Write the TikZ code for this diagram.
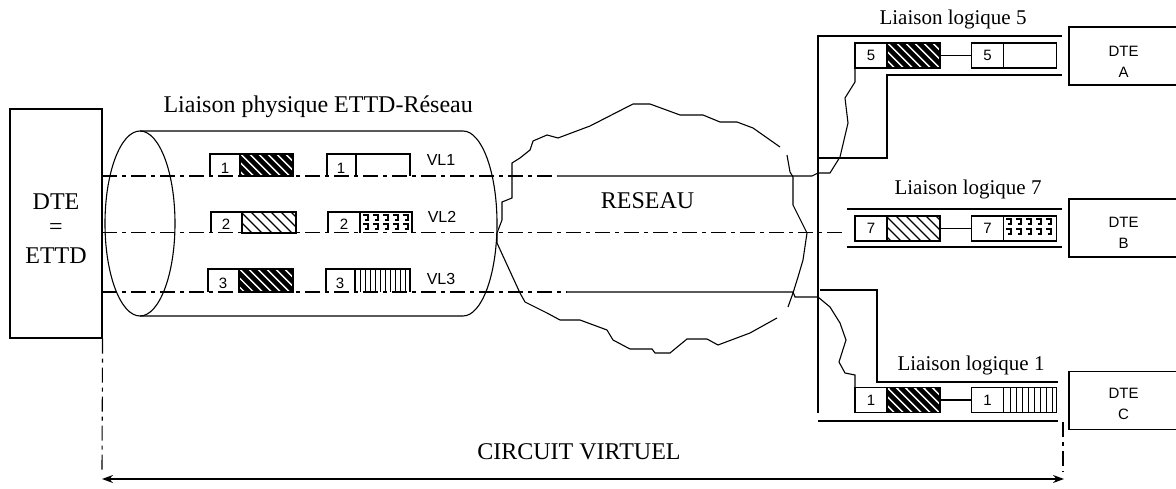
\documentclass[tikz,border=0pt]{standalone}
\usepackage{fontspec}
\setmainfont{Liberation Serif}
\newfontfamily\dtesans{Liberation Sans}
\usetikzlibrary{arrows.meta}
% diagonal "\" hatching clipped to a box: x0,y0,x1,y1,period,line width
\newcommand{\hatchbox}[6]{%
  \begin{scope}
    \clip (#1,#2) rectangle (#3,#4);
    \foreach \k in {0,...,14}
      \draw[line width=#6, line cap=butt] ({#1-32+\k*#5},{#2-1}) -- ++(34,34);
  \end{scope}}
% small hook marks used as a "dotted" payload
\newcommand{\hookfill}[3]{%
  \foreach \c in {0,...,4} \foreach \r in {0,1}
    \draw[line width=1.9pt] ({#1+\c*10},{#2+\r*#3}) -- ++(5,0) -- ++(0,5) -- ++(-3,0);}
\begin{document}
\begin{tikzpicture}[x=1pt,y=-1pt,line width=1.1pt,
  serif/.style={font=\fontsize{24}{27}\selectfont, inner sep=0pt},
  llabel/.style={font=\fontsize{21}{24}\selectfont, inner sep=0pt},
  sans/.style={font=\dtesans\fontsize{16}{18}\selectfont, inner sep=0pt},
  num/.style={font=\dtesans\fontsize{15}{17}\selectfont, inner sep=0pt},
  vline/.style={dash pattern=on 15pt off 5pt on 4pt off 5pt},
  cell/.style={draw, minimum height=25pt, inner sep=0pt, outer sep=0pt},
  numcell/.style={cell, minimum width=32pt, font=\dtesans\fontsize{15}{17}\selectfont},
  loadcell/.style={cell, minimum width=53pt},
  dtebox/.style={draw, minimum width=109pt, minimum height=58pt, inner sep=0pt},
  dtetext/.style={font=\dtesans\fontsize{15}{21}\selectfont, align=center, inner sep=0pt}
]
\useasboundingbox (0,0) rectangle (1176,489);
\fill[white] (0,0) rectangle (1176,489);

% ---------- local DTE ----------
\node[draw, minimum width=92pt, minimum height=229pt, inner sep=0pt] (ettd) at (56,223.5) {};
\node[serif, anchor=base] (ettd1) at (56,210) {DTE};
\node[serif, anchor=base] (ettd2) at (56,235) {=};
\node[serif, anchor=base] (ettd3) at (56,264) {ETTD};

% ---------- physical link (cylinder) ----------
\draw (140,223.5) ellipse[x radius=35, y radius=92.5];
\draw (140,131) -- (463,131) arc[start angle=-90, end angle=90, x radius=34, y radius=92.5] -- (140,316);
\node[serif, anchor=base west] (phys) at (163,113) {Liaison physique ETTD-Réseau};

% ---------- network cloud ----------
\draw (787,155) -- (790,172) -- (793,177) -- (793,205) -- (807,233) -- (803,260)
      -- (798,277) -- (793,293) -- (788,307);
\draw (777,318) -- (750,333) -- (718,345) -- (707,339) -- (687,339) -- (670,353)
      -- (655,353) -- (652,349) -- (630,349) -- (613,340) -- (607,330) -- (580,320)
      -- (560,320) -- (547,313) -- (525,302) -- (520,293) -- (497,243) -- (497,233)
      -- (502,220) -- (502,202) -- (512,198) -- (512,163) -- (520,158) -- (530,150)
      -- (533,141) -- (547,135) -- (558,138) -- (590,126) -- (633,104) -- (650,104)
      -- (680,115) -- (703,115) -- (720,122) -- (737,122) -- (753,128) -- (780,147);
\node[serif, anchor=base] (reseau) at (647.5,209) {RESEAU};

% ---------- remote side: brackets ----------
\draw (818,413) -- (818,36) -- (1062,36);
\draw (818,158) -- (887,158) -- (887,75) -- (1062,75);
\draw (847,209) -- (1062,209);
\draw (847,247) -- (1062,247);
\draw (820,290) -- (877,290) -- (877,382) -- (1058,382);
\draw (818,421) -- (1058,421);

% ---------- remote packets ----------
% logical link 5
\hatchbox{887}{43}{940}{68}{9}{4.6pt}
\node[numcell] (p5n) at (871,55.5) {5};
\node[loadcell] (p5h) at (913.5,55.5) {};
\node[numcell] (p5m) at (987.5,55.5) {5};
\node[loadcell] (p5d) at (1030,55.5) {};
\draw (p5h.east) -- (p5m.west);
% logical link 7
\hatchbox{887}{216}{940}{241}{10}{1.3pt}
\hookfill{1006}{219}{10}
\node[numcell] (p7n) at (871,228.5) {7};
\node[loadcell] (p7h) at (913.5,228.5) {};
\node[numcell] (p7m) at (987.5,228.5) {7};
\node[loadcell] (p7d) at (1030,228.5) {};
\draw (p7h.east) -- (p7m.west);
% logical link 1
\hatchbox{887}{388}{940}{412}{9}{4.6pt}
\foreach \x in {1010,1016,...,1052} \draw[line width=0.9pt] (\x,388) -- (\x,412);
\node[numcell] (p1n) at (871,400) {1};
\node[loadcell] (p1h) at (913.5,400) {};
\node[numcell] (p1m) at (987.5,400) {1};
\node[loadcell] (p1d) at (1030,400) {};
\draw (p1h.east) -- (p1m.west);

\node[llabel, anchor=base] (ll5) at (953,25) {Liaison logique 5};
\node[llabel, anchor=base] (ll7) at (968,195) {Liaison logique 7};
\node[llabel, anchor=base] (ll1) at (971,370) {Liaison logique 1};

% ---------- remote DTEs ----------
\node[dtebox] (dteA) at (1123.5,56) {};
\node[dtetext] (dteAt) at ([yshift=-6pt]dteA.center) {DTE\\A};
\node[dtebox] (dteB) at (1123.5,228) {};
\node[dtetext] (dteBt) at ([yshift=-5pt]dteB.center) {DTE\\B};
\node[dtebox] (dteC) at (1123.5,400.5) {};
\node[dtetext] (dteCt) at ([yshift=-3pt]dteC.center) {DTE\\C};

% ---------- virtual channels ----------
\draw[vline] (102,176) -- (557,176);
\draw (557,176) -- (812,176) -- (818,173) -- (830,173) -- (840,157) -- (848,123)
      -- (845,98) -- (855,82) -- (p5n.south west);
\draw[vline] (102,232.5) -- (845,232.5);
\draw[vline] (102,292) -- (567,292);
\draw (567,292) -- (793,292) -- (795,297) -- (818,297) -- (830,307) -- (840,323)
      -- (846,340) -- (839,362) -- (845,373) -- (855,375) -- (p1n.north west);

% ---------- packets inside the cylinder ----------
% VL1
\hatchbox{240}{154}{293}{176}{9}{4.6pt}
\draw (210,176) -- (210,154) -- (293,154) -- (293,176) -- (240,176) -- (240,154);
\node[num, anchor=base] (c1a) at (225,174) {1};
\draw (327,176) -- (327,154) -- (410,154) -- (410,176);
\draw (356,154) -- (356,176);
\node[num, anchor=base] (c1b) at (341,174) {1};
\node[sans, anchor=base] (vl1) at (441,166) {VL1};
% VL2
\hatchbox{242}{212}{296}{233}{10}{1.3pt}
\draw (211,233) -- (211,212) -- (296,212) -- (296,233) -- (242,233) -- (242,212);
\node[num, anchor=base] (c2a) at (226,230) {2};
\draw (328,233) -- (328,212) -- (412,212) -- (412,233);
\draw (360,212) -- (360,233);
\hookfill{363}{215}{9}
\node[num, anchor=base] (c2b) at (344,230) {2};
\node[sans, anchor=base] (vl2) at (442,223) {VL2};
% VL3
\hatchbox{239}{269}{293}{292}{9}{4.6pt}
\draw (208,292) -- (208,269) -- (293,269) -- (293,292) -- (239,292) -- (239,269);
\node[num, anchor=base] (c3a) at (223,289) {3};
\draw (326,292) -- (326,269) -- (410,269) -- (410,292);
\draw (355,269) -- (355,292);
\foreach \x in {360,365,...,405} \draw[line width=0.9pt] (\x,269) -- (\x,292);
\node[num, anchor=base] (c3b) at (340,289) {3};
\node[sans, anchor=base] (vl3) at (441,284) {VL3};

% ---------- virtual circuit span ----------
\draw[vline] (ettd.south east) -- (102,472);
\draw[vline] (1063,422) -- (1063,472);
\coordinate (cvL) at (102,479);
\coordinate (cvR) at (1064,479);
\draw[{Stealth[length=11pt,width=8pt]}-{Stealth[length=11pt,width=8pt]}, line width=1.4pt] (cvL) -- (cvR);
\node[serif, anchor=base] (cv) at (579,459) {CIRCUIT VIRTUEL};
\end{tikzpicture}
\end{document}
